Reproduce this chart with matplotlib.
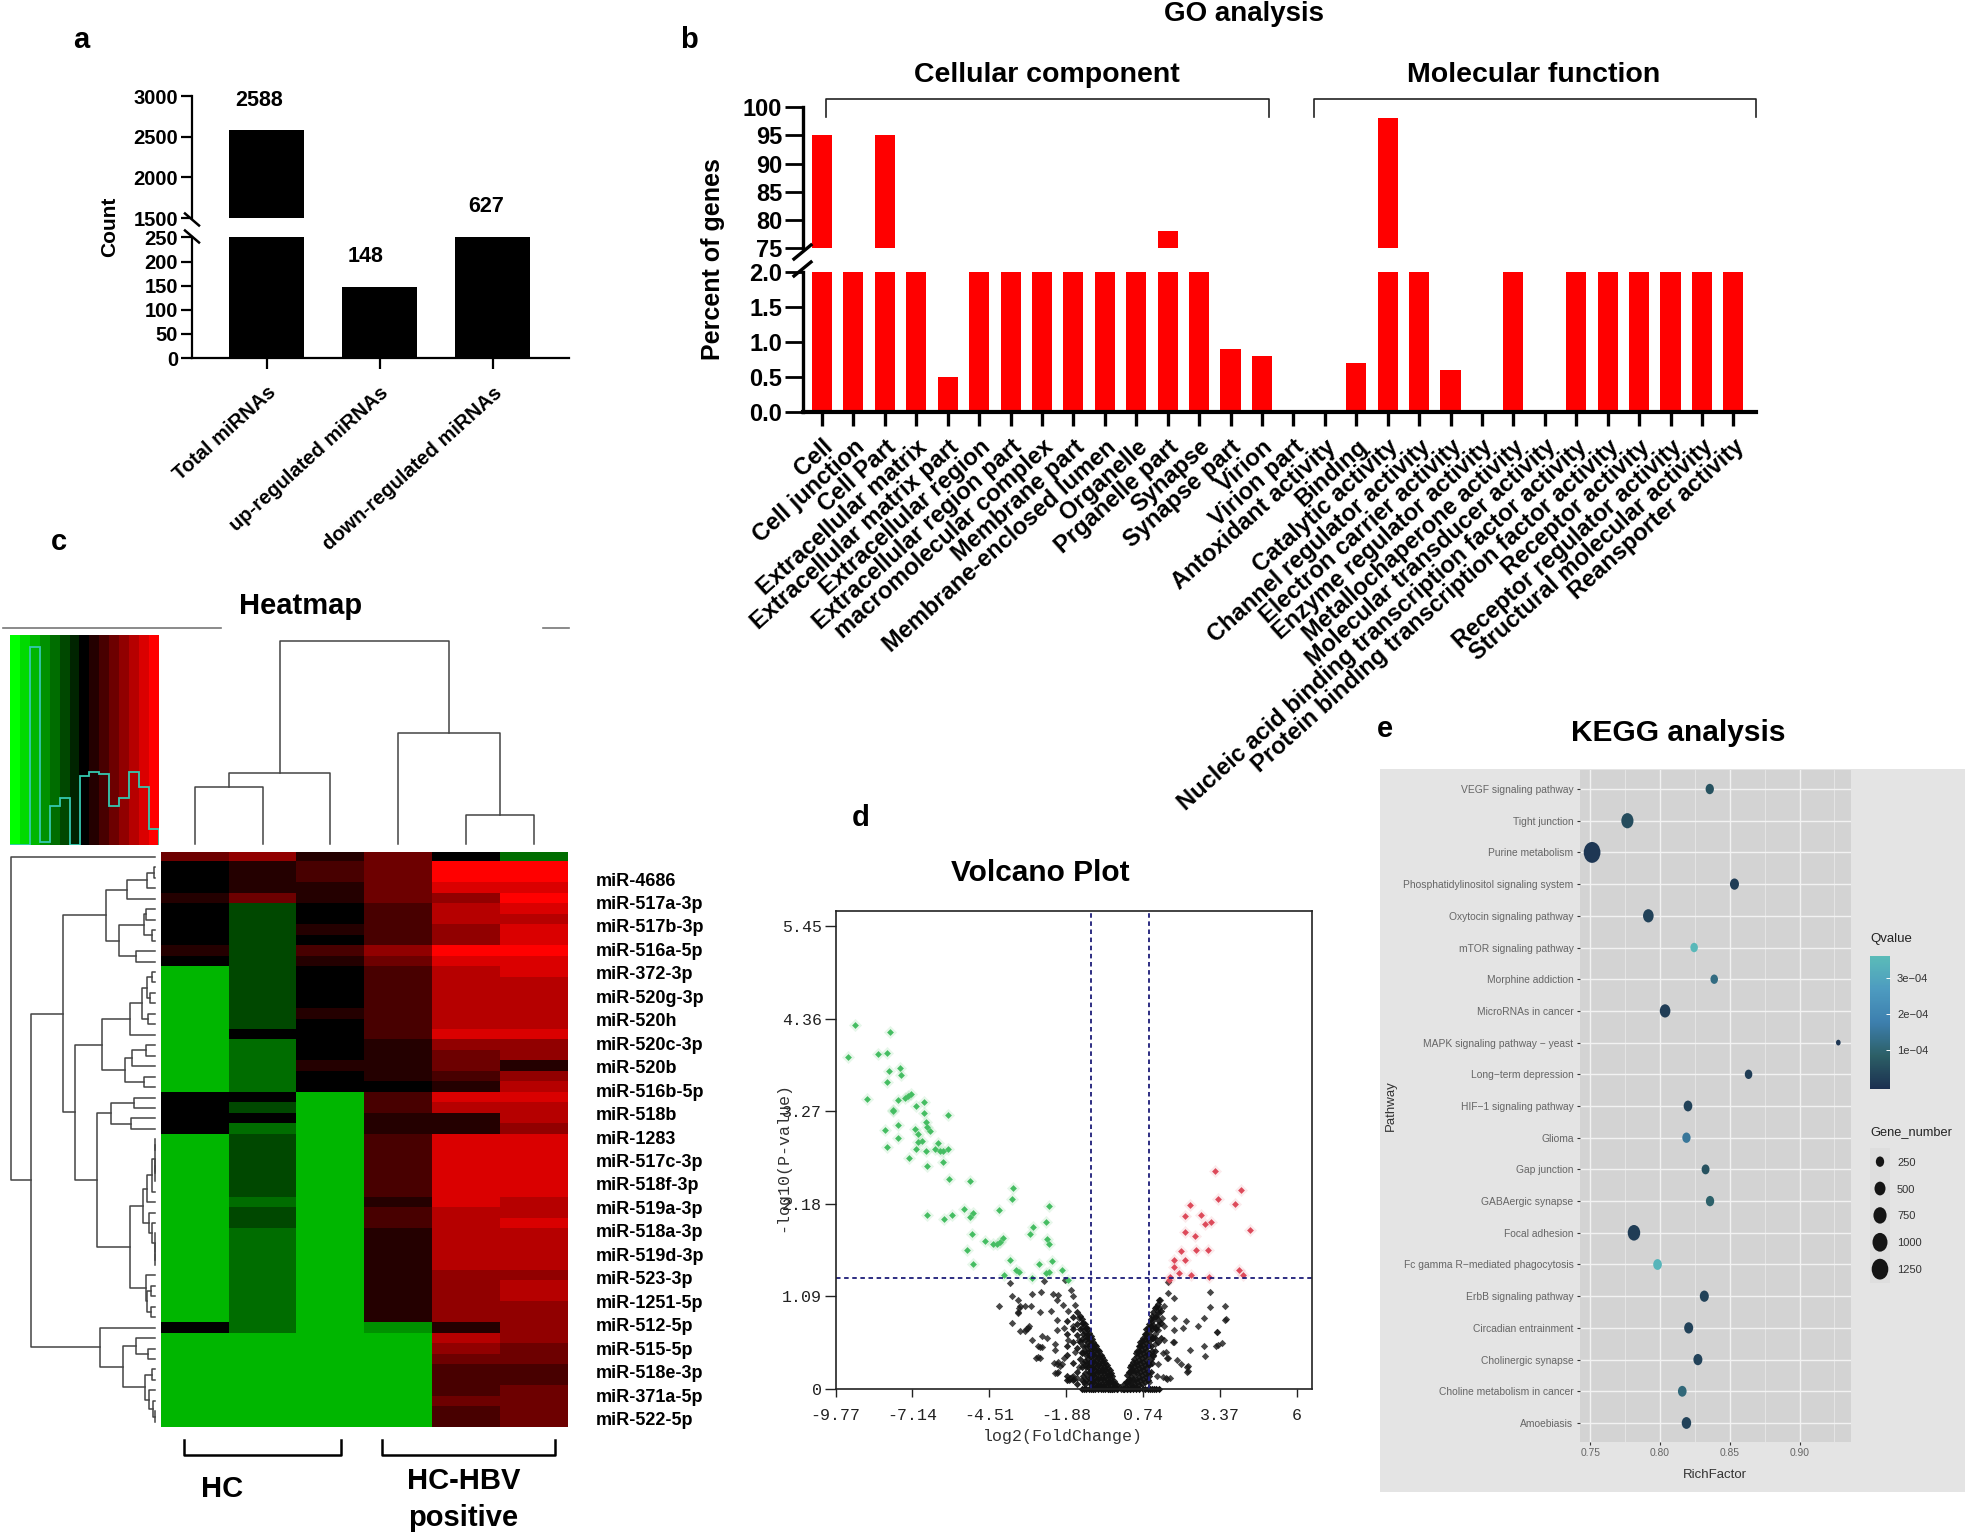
import numpy as np
import matplotlib
matplotlib.use("Agg")
import matplotlib.pyplot as plt
from matplotlib.colors import ListedColormap, LinearSegmentedColormap
from matplotlib.path import Path
from matplotlib.transforms import Affine2D

plt.rcParams['font.family'] = ['Liberation Sans', 'DejaVu Sans']

W, H = 1967, 1538

# ---- panel a
a_labels = ["Total miRNAs", "up-regulated miRNAs", "down-regulated miRNAs"]
a_values = [2588, 148, 627]

# ---- panel b
go_labels = ["Cell", "Cell junction", "Cell Part", "Extracellular matrix", "Extracellular matrix part",
             "Extracellular region", "Extracellular region part", "macromolecular complex", "Membrane part",
             "Membrane-enclosed lumen", "Organelle", "Prganelle part", "Synapse", "Synapse part", "Virion",
             "Virion part", "Antoxidant activity", "Binding", "Catalytic activity", "Channel regulator activity",
             "Electron carrier activity", "Enzyme regulator activity", "Metallochaperone activity",
             "Molecular transducer activity", "Nucleic acid binding transcription factor activity",
             "Protein binding transcription factor activity", "Receptor activity", "Receptor regulator activity",
             "Structural molecular activity", "Reansporter activity"]
go_values = [95, 2, 95, 2, 0.5, 2, 2, 2, 2, 2, 2, 78, 2, 0.9, 0.8,
             0, 0, 0.7, 98, 2, 0.6, 0, 2, 0, 2, 2, 2, 2, 2, 2]

# ---- panel c, colour level per run of rows, (level, number of rows)
hm_col1 = [(3, 1), (0, 3), (1, 1), (0, 4), (1, 1), (0, 1), (-5, 12), (0, 4), (-5, 18), (0, 1), (-5, 9)]
hm_col2 = [(4, 1), (1, 3), (3, 1), (-2, 12), (0, 1), (-3, 5), (0, 1), (-2, 1), (0, 1), (-3, 1), (-2, 6),
           (-3, 1), (-2, 2), (-3, 10), (-5, 9)]
hm_col3 = [(1, 1), (2, 2), (1, 2), (0, 2), (1, 1), (0, 1), (2, 1), (1, 1), (0, 4), (1, 1), (0, 4), (1, 1),
           (0, 2), (-5, 32)]
hm_col4 = [(3, 5), (2, 4), (4, 1), (3, 1), (2, 7), (1, 4), (0, 1), (2, 2), (1, 2), (2, 6), (1, 1), (2, 2),
           (1, 9), (-4, 1), (-5, 9)]
hm_col5 = [(0, 1), (7, 2), (6, 1), (4, 1), (5, 2), (4, 2), (7, 1), (6, 1), (5, 6), (6, 1), (4, 1), (3, 2),
           (2, 1), (1, 1), (6, 1), (5, 1), (1, 2), (6, 7), (5, 6), (4, 5), (1, 1), (5, 1), (4, 1), (3, 1),
           (2, 2), (2, 1), (3, 1), (2, 2)]
hm_col6 = [(-3, 1), (7, 2), (6, 1), (7, 1), (6, 1), (5, 1), (6, 2), (7, 1), (6, 2), (5, 5), (6, 1), (4, 2),
           (1, 1), (4, 1), (5, 1), (6, 1), (5, 2), (4, 1), (6, 6), (5, 2), (6, 1), (5, 4), (4, 1), (5, 2),
           (4, 4), (3, 2), (2, 2), (3, 4)]
mir_labels = ["miR-4686", "miR-517a-3p", "miR-517b-3p", "miR-516a-5p", "miR-372-3p", "miR-520g-3p", "miR-520h",
              "miR-520c-3p", "miR-520b", "miR-516b-5p", "miR-518b", "miR-1283", "miR-517c-3p", "miR-518f-3p",
              "miR-519a-3p", "miR-518a-3p", "miR-519d-3p", "miR-523-3p", "miR-1251-5p", "miR-512-5p",
              "miR-515-5p", "miR-518e-3p", "miR-371a-5p", "miR-522-5p"]
key_levels = np.arange(-7, 8)
key_hist = [0, 0, 595, 8, 118, 140, 0, 208, 220, 213, 118, 140, 220, 173, 47]
# trees are (height, left, right), an int is a leaf
col_tree = (609, (215, (171, 0, 1), 2), (334, 3, (88, 4, 5)))
row_tree = (365, 0, (315,
    (233,
     (125,
      (73, (21, (3, 1, 2), 3), 4),
      (93, (28, (25, 5, 6), (8, 7, 8)), (48, 9, 10))),
     (203,
      (135,
       (63, (33, (21, (8, 11, 12), (13, 13, 14)), (18, 15, 16)), 17),
       (76, (60, (25, 18, 19), 20), (28, 21, 22))),
      (148,
       (113, (53, 23, 24), (61, 25, 26)),
       (63,
        (31, (21, (8, (2, (1, 27, 28), (1, (1, 29, 30), 31)), 32), 33),
         (15, 34, (8, 35, (2, 36, (2, 37, (1, 38, 39)))))),
        (25, 40, (21, (11, 41, 42), (11, 43, 44))))))),
    (140, 45, (81, (48, 46, (18, 47, 48)),
               (26, (8, 49, 50), (15, 51, (6, 52, (1, 53, 54))))))))

# ---- panel d
volcano_green = [(-9.12, 4.29), (-9.34, 3.91), (-7.91, 4.20), (-8.31, 3.94), (-8.01, 3.96), (-7.94, 3.74),
                 (-7.58, 3.78), (-7.54, 3.70), (-8.01, 3.61), (-8.68, 3.42), (-7.64, 3.40), (-7.41, 3.43),
                 (-7.31, 3.45), (-7.18, 3.47), (-6.74, 3.38), (-7.01, 3.33), (-7.79, 3.29), (-7.82, 3.27),
                 (-6.75, 3.25), (-5.92, 3.22), (-6.69, 3.14), (-7.63, 3.11), (-6.63, 3.09), (-6.55, 3.04),
                 (-8.07, 3.05), (-7.06, 3.06), (-6.96, 3.00), (-7.63, 2.96), (-6.94, 2.91), (-6.82, 2.92),
                 (-8.00, 2.85), (-6.28, 2.89), (-7.02, 2.83), (-6.69, 2.80), (-6.37, 2.82), (-6.21, 2.80),
                 (-6.08, 2.80), (-5.92, 2.82), (-7.26, 2.72), (-6.08, 2.67), (-6.66, 2.63), (-5.90, 2.47),
                 (-5.17, 2.45), (-3.70, 2.36), (-3.73, 2.24), (-2.47, 2.15), (-4.17, 2.11), (-5.38, 2.12),
                 (-5.07, 2.07), (-5.18, 2.02), (-6.64, 2.05), (-5.80, 2.05), (-6.07, 2.00), (-2.59, 1.97),
                 (-3.01, 1.91), (-3.11, 1.82), (-5.12, 1.82), (-2.54, 1.76), (-2.48, 1.71), (-4.65, 1.74),
                 (-4.39, 1.71), (-4.24, 1.71), (-4.14, 1.73), (-4.03, 1.78), (-5.28, 1.63), (-3.80, 1.52),
                 (-5.07, 1.47), (-2.38, 1.51), (-2.80, 1.47), (-2.01, 1.40), (-3.61, 1.40), (-3.51, 1.37),
                 (-2.47, 1.37), (-2.57, 1.36), (-4.00, 1.34), (-3.06, 1.30), (-1.81, 1.28)]
volcano_red = [(3.20, 2.56), (4.09, 2.34), (3.30, 2.23), (3.89, 2.18), (2.35, 2.16), (2.72, 2.05), (2.19, 2.03),
               (3.08, 1.96), (2.87, 1.94), (4.41, 1.87), (2.19, 1.85), (2.52, 1.80), (2.57, 1.63), (2.95, 1.63),
               (2.04, 1.62), (2.19, 1.52), (1.82, 1.52), (1.82, 1.44), (4.04, 1.40), (1.97, 1.36), (2.39, 1.34),
               (4.18, 1.34), (1.65, 1.32), (2.99, 1.32), (1.63, 1.28)]
volcano_black = [(-3.80, 1.25), (-2.64, 1.27), (-1.92, 1.28), (-3.73, 1.09), (-3.53, 1.05), (-4.17, .98), (-3.48, .98),
                 (-3.29, .98), (-3.10, .98), (-3.04, 1.12), (-2.76, 1.14), (-2.34, 1.12), (-2.15, 1.11), (-1.73, 1.16),
                 (-1.64, 1.09), (-2.21, 1.04), (-1.98, .99), (-1.58, .99), (-3.52, .90), (-3.73, .78), (-2.78, .90),
                 (-2.40, .92), (-1.83, .92), (-2.21, .81), (-1.45, .83), (-1.33, .78), (-3.16, .74), (-3.29, .68),
                 (-3.48, .68), (-2.72, .62), (-2.53, .60), (-2.21, .69), (-1.96, .71), (-1.64, .74), (-1.20, .71),
                 (-3.04, .57), (-2.85, .50), (-2.28, .53), (-1.83, .57), (-1.45, .57), (-1.13, .60), (-2.78, .36),
                 (-2.91, .36), (-2.28, .46), (-1.96, .36), (-1.58, .43), (-1.33, .43), (-2.21, .29), (-2.02, .29),
                 (-2.21, .19), (-1.64, .15), (-1.52, .13), (-1.77, .13), (-1.45, .25), (-1.20, .29), (-1.07, .20),
                 (-1.26, .08), (-2.78, .495), (-2.72, .49), (-2.84, .37), (-2.15, .32), (-1.70, .134), (-1.75, .12),
                 (-3.18, .71), (-3.25, .70), (-3.52, .89), (-3.50, .95), (-2.25, .18), (-2.15, .20), (-2.3, .3),
                 (-2.1, .27), (-1.8, .10), (-1.6, .12),
                 (1.59, 1.26), (1.59, 1.13), (1.81, 1.07), (1.34, 1.04), (1.46, .97), (1.27, .88), (1.40, .83),
                 (1.82, .83), (2.20, .80), (2.83, .83), (3.56, .98), (3.02, .96), (3.05, 1.14), (3.58, .82),
                 (2.61, .74), (1.82, .69), (1.46, .74), (1.27, .69), (1.15, .64), (2.10, .71), (3.28, .67),
                 (3.46, .54), (2.82, .50), (2.35, .46), (2.86, .38), (1.82, .55), (1.46, .57), (1.15, .53),
                 (1.53, .43), (1.59, .36), (1.91, .34), (2.04, .29), (2.29, .27), (2.29, .21), (1.53, .13),
                 (1.65, .13), (1.27, .29), (1.08, .39), (0.96, .29), (1.21, .15), (0.96, .08), (2.24, .26), (2.24, .20),
                 (3.31, .52), (3.24, .50), (1.44, .14), (1.55, .12), (1.78, .55), (3.55, .81), (3.26, .67), (1.44, .42),
                 (1.55, .36)]
# dense V around zero, read column by column: (log2 fold change, [-log10 p, ...])
volcano_v = [(-.05, [.02]), (-.15, [0, .04]), (-.2, [.05]), (-.25, [.02, .09]), (-.3, [0, .08, .15]),
             (-.35, [.04, .12, .18]), (-.4, [0, .08, .16, .22]), (-.45, [0, .08, .16, .24]),
             (-.5, [.04, .12, .2, .28]), (-.55, [.06, .14, .22, .3]), (-.6, [.02, .1, .18, .26, .34]),
             (-.65, [.06, .14, .22, .3, .37]), (-.7, [.02, .1, .18, .26, .34, .4]),
             (-.75, [.06, .14, .22, .3, .38, .44]), (-.8, [.04, .12, .2, .28, .36, .46]),
             (-.85, [.02, .1, .18, .26, .34, .42, .5]), (-.9, [.06, .14, .22, .3, .38, .46, .52]),
             (-.95, [0, .08, .16, .24, .32, .4, .48, .55]), (-1., [.02, .1, .18, .26, .34, .42, .5, .58]),
             (-1.05, [.06, .14, .22, .3, .38, .46, .54, .62]), (-1.1, [.08, .2, .3, .4, .5, .6, .66]),
             (-1.15, [.14, .25, .35, .45, .55, .63, .7]), (-1.2, [.1, .25, .4, .5, .62, .72]),
             (-1.25, [.05, .18, .33, .45, .57, .67, .76]), (-1.3, [.15, .3, .5, .65, .78]),
             (-1.35, [.1, .25, .42, .58, .72, .82]), (-1.4, [.35, .55, .7, .86]),
             (-1.5, [.05, .2, .48, .63, .76, .9]), (-1.65, [.1, .3, .55, .7, .84]),
             (-1.85, [.1, .15, .4, .5, .65, .8]),
             (0., [0]), (.05, [0]), (.1, [0, .05]), (.15, [.02, .08]), (.2, [0, .08, .16]), (.25, [.04, .12, .2]),
             (.3, [0, .1, .2, .26]), (.35, [.06, .14, .22, .28]), (.4, [.02, .12, .22, .32]),
             (.45, [.07, .17, .27, .35]), (.5, [.02, .12, .22, .32, .42]), (.55, [.08, .18, .28, .38, .44]),
             (.6, [.04, .14, .24, .34, .44, .5]), (.65, [.1, .2, .3, .4, .5, .55]),
             (.7, [.06, .16, .26, .36, .46, .56]), (.75, [.12, .22, .32, .42, .52, .6]),
             (.8, [.08, .18, .28, .38, .48, .58, .64]), (.85, [.14, .24, .34, .44, .54, .64, .7]),
             (.9, [.1, .2, .3, .4, .5, .6, .72]), (.95, [.15, .28, .42, .56, .68, .76]),
             (1., [.2, .35, .5, .62, .74, .82]), (1.05, [.3, .45, .6, .7, .8, .86]),
             (1.1, [.4, .6, .75, .9]), (1.15, [.45, .6, .72, .85, .95]), (1.2, [.7, .85, .96]),
             (1.25, [.55, .75, .9, 1.]), (1.3, [.8, .95, 1.04]), (1.35, [.6, .78, .92])]
# points sitting on the zero line
volcano_zero_x = [-1.35, -1.27, -1.2, -1.12, -1.05, -.97, -.9, -.78, -.7, -.62, -.55, -.47, -.4, -.32, -.25, -.15,
                  .1, .2, .3, .4, .5, .6, .75, .82, .9, .98, 1.05, 1.13, 1.2, 1.3]
volcano_xticks = [-9.77, -7.14, -4.51, -1.88, 0.74, 3.37, 6]
volcano_xlabels = ["-9.77", "-7.14", "-4.51", "-1.88", "0.74", "3.37", "6"]
volcano_yticks = [0, 1.09, 2.18, 3.27, 4.36, 5.45]
volcano_ylabels = ["0", "1.09", "2.18", "3.27", "4.36", "5.45"]

# ---- panel e
pathways = ["VEGF signaling pathway", "Tight junction", "Purine metabolism", "Phosphatidylinositol signaling system",
            "Oxytocin signaling pathway", "mTOR signaling pathway", "Morphine addiction", "MicroRNAs in cancer",
            "MAPK signaling pathway \u2212 yeast", "Long\u2212term depression", "HIF\u22121 signaling pathway", "Glioma",
            "Gap junction", "GABAergic synapse", "Focal adhesion", "Fc gamma R\u2212mediated phagocytosis",
            "ErbB signaling pathway", "Circadian entrainment", "Cholinergic synapse", "Choline metabolism in cancer",
            "Amoebiasis"]
rich_factor = [.8357, .7767, .7514, .8534, .7917, .8245, .8389, .8037, .9278, .8635, .8201, .8190,
               .8327, .8359, .7814, .7983, .8318, .8206, .8272, .8160, .8190]
gene_number = [250, 630, 1265, 310, 460, 190, 190, 460, 20, 190, 280, 250,
               220, 250, 670, 280, 310, 310, 310, 280, 350]
qvalue = [.6e-4, .5e-4, .1e-4, .2e-4, .3e-4, 3.5e-4, 1.2e-4, .2e-4, .1e-4, .2e-4, .3e-4, 1.5e-4,
          .6e-4, .9e-4, .2e-4, 3.4e-4, .3e-4, .3e-4, .3e-4, 1.1e-4, .3e-4]
legend_genes = [250, 500, 750, 1000, 1250]

fig = plt.figure(figsize=(W / 100, H / 100), dpi=100, facecolor="white")


def pxax(left, top, right, bottom, **kw):
    return fig.add_axes([left / W, 1 - bottom / H, (right - left) / W, (bottom - top) / H], **kw)


def expand(runs):
    return np.repeat([r[0] for r in runs], [r[1] for r in runs])


def tree_lines(node, leaf_pos, out):
    # returns (position, height) of a node and adds its U shape to out
    if isinstance(node, int):
        return leaf_pos(node), 0
    h, left, right = node
    p1, h1 = tree_lines(left, leaf_pos, out)
    p2, h2 = tree_lines(right, leaf_pos, out)
    out.append(([p1, p1, p2, p2], [h1, h, h, h2]))
    return (p1 + p2) / 2, h


# overlay in pixel units, for panel letters, titles and brackets
ov = fig.add_axes([0, 0, 1, 1], zorder=20)
ov.set_xlim(0, W)
ov.set_ylim(H, 0)
ov.axis("off")

for letter, x, y in [("a", 81, 40), ("b", 689, 40), ("c", 59, 542), ("d", 861, 818), ("e", 1385, 729)]:
    ov.text(x, y, letter, fontsize=21, fontweight="bold", ha="center", va="center")

# ---------------- a
a_x = np.arange(3)
a_up = pxax(192, 96.3, 569, 218)
a_low = pxax(192, 237.5, 569, 358)
for ax in (a_up, a_low):
    ax.bar(a_x, a_values, width=0.66, color="black")
    ax.set_xlim(-0.66, 2.676)
    for s in ["top", "right"]:
        ax.spines[s].set_visible(False)
    ax.spines["left"].set_linewidth(1.6)
    ax.spines["bottom"].set_linewidth(1.6)
    ax.tick_params(width=1.6, length=8, labelsize=14.5, pad=2)
a_up.set_ylim(1500, 3000)
a_up.set_yticks([1500, 2000, 2500, 3000])
a_up.spines["bottom"].set_visible(False)
a_up.set_xticks([])
plt.setp(a_up.get_yticklabels(), fontweight="bold")
a_low.set_ylim(0, 250)
a_low.set_yticks([0, 50, 100, 150, 200, 250])
plt.setp(a_low.get_yticklabels(), fontweight="bold")
a_low.set_xticks(a_x)
a_low.set_xticklabels(a_labels, rotation=42, ha="right", rotation_mode="anchor", fontsize=14.5, fontweight="bold")
a_low.tick_params(axis="x", pad=10)
ov.text(110, 227, "Count", rotation=90, fontsize=15, fontweight="bold", ha="center", va="center")
for txt, x, y in zip(a_values, [259, 366, 486], [101, 257, 207]):
    ov.text(x, y, str(txt), fontsize=15.5, fontweight="bold", ha="center", va="center")
for y0 in (213.5, 230.5):
    ov.plot([185, 199], [y0, y0 + 12], color="black", lw=1.8)

# ---------------- b
go_x = np.arange(len(go_labels))
b_up = pxax(803, 107, 1756, 248.3)
b_low = pxax(803, 271.7, 1756, 411.7)
for ax in (b_up, b_low):
    ax.bar(go_x, go_values, width=0.64, color="#ff0000")
    ax.set_xlim(-0.6045, 29.72)
    for s in ["top", "right"]:
        ax.spines[s].set_visible(False)
    ax.spines["left"].set_linewidth(2.4)
    ax.tick_params(axis="y", width=2, length=13, labelsize=17, pad=2)
b_up.set_ylim(75, 100)
b_up.set_yticks([75, 80, 85, 90, 95, 100])
b_up.spines["bottom"].set_visible(False)
b_up.set_xticks([])
plt.setp(b_up.get_yticklabels(), fontweight="bold")
b_low.set_ylim(0, 2)
b_low.set_yticks([0, 0.5, 1, 1.5, 2])
b_low.set_yticklabels(["0.0", "0.5", "1.0", "1.5", "2.0"], fontweight="bold")
b_low.spines["bottom"].set_linewidth(3)
b_low.set_xticks(go_x)
b_low.set_xticklabels(go_labels, rotation=42, ha="right", rotation_mode="anchor", fontsize=17, fontweight="bold")
b_low.tick_params(axis="x", width=2.4, length=10, pad=7)
ov.text(713, 259, "Percent of genes", rotation=90, fontsize=18, fontweight="bold", ha="center", va="center")
ov.text(1244, 14, "GO analysis", fontsize=20, fontweight="bold", ha="center", va="center")
ov.text(1047, 75, "Cellular component", fontsize=20.5, fontweight="bold", ha="center", va="center")
ov.text(1534, 75, "Molecular function", fontsize=20.5, fontweight="bold", ha="center", va="center")
for x0, x1 in [(826, 1269), (1314, 1756)]:
    ov.plot([x0, x0, x1, x1], [117, 99, 99, 117], color="#222222", lw=1.2)
for y0 in (245, 262):
    ov.plot([794, 811], [y0 + 14, y0], color="black", lw=2.4)

# ---------------- c
hm_levels = np.column_stack([expand(c) for c in (hm_col1, hm_col2, hm_col3, hm_col4, hm_col5, hm_col6)])
rg_colors = [(0, -v / 7, 0) if v < 0 else (v / 7, 0, 0) for v in key_levels]
rg_cmap = ListedColormap(rg_colors)

hm = pxax(161, 851.7, 567.4, 1427)
hm.imshow(hm_levels, aspect="auto", cmap=rg_cmap, vmin=-7.5, vmax=7.5, interpolation="nearest")
hm.axis("off")

key = pxax(10, 635, 159, 845)
key.imshow(key_levels[None, :], aspect="auto", cmap=rg_cmap, vmin=-7.5, vmax=7.5,
           extent=(0, 15, 0, 630), interpolation="nearest")
key.stairs(key_hist, np.arange(16), color="#35c9b0", lw=1.3)
key.set_xlim(0, 15)
key.set_ylim(0, 630)
key.axis("off")

col_dend = pxax(161, 641, 567.4, 844.3)
segs = []
tree_lines(col_tree, lambda i: i + 0.5, segs)
for xs, ys in segs:
    col_dend.plot(xs, ys, color="#444444", lw=1.1, clip_on=False)
col_dend.set_xlim(0, 6)
col_dend.set_ylim(0, 609)
col_dend.axis("off")

row_dend = pxax(11, 851.7, 155.4, 1427)
segs = []
tree_lines(row_tree, lambda i: i + 0.5, segs)
for ys, xs in segs:
    row_dend.plot(xs, ys, color="#444444", lw=1.1, clip_on=False)
row_dend.set_xlim(365, 0)
row_dend.set_ylim(55, 0)
row_dend.axis("off")

ov.plot([3, 220.6], [628, 628], color="#777777", lw=1.2)
ov.plot([542.5, 569.4], [628, 628], color="#777777", lw=1.2)
ov.text(301, 606, "Heatmap", fontsize=21, fontweight="bold", ha="center", va="center")
for lab, y in zip(mir_labels, np.linspace(881, 1420.6, len(mir_labels))):
    ov.text(596, y, lab, fontsize=13, fontweight="bold", ha="left", va="center")
for x0, x1 in [(184, 341), (381.6, 554.8)]:
    ov.plot([x0, x0, x1, x1], [1439.5, 1455, 1455, 1439.5], color="black", lw=1.8)
ov.text(222, 1489, "HC", fontsize=21, fontweight="bold", ha="center", va="center")
ov.text(464, 1481, "HC-HBV", fontsize=21, fontweight="bold", ha="center", va="center")
ov.text(463, 1518, "positive", fontsize=21, fontweight="bold", ha="center", va="center")

# ---------------- d
mono = "Liberation Mono"
d_ax = pxax(835.6, 910.5, 1311.9, 1388.7)
black = np.array(volcano_black)
green = np.array(volcano_green)
red = np.array(volcano_red)
v_x = np.concatenate([[c[0]] * len(c[1]) for c in volcano_v])
v_y = np.concatenate([c[1] for c in volcano_v])
d_ax.scatter(black[:, 0], black[:, 1], marker="D", s=14, color="#1a1a1a", alpha=0.8, lw=0, clip_on=False)
d_ax.scatter(v_x, v_y, marker="D", s=14, color="#111111", alpha=0.9, lw=0, clip_on=False)
d_ax.scatter(volcano_zero_x, [0] * len(volcano_zero_x), marker="D", s=14, color="#111111", lw=0, clip_on=False)
d_ax.scatter(green[:, 0], green[:, 1], marker="D", s=45, color="#3fbf5a", alpha=0.12, lw=0)
d_ax.scatter(green[:, 0], green[:, 1], marker="D", s=12, color="#45bd62", lw=0)
d_ax.scatter(red[:, 0], red[:, 1], marker="D", s=45, color="#dd4050", alpha=0.10, lw=0)
d_ax.scatter(red[:, 0], red[:, 1], marker="D", s=12, color="#dd4a5a", lw=0)
for v in (-1.03, 0.96):
    d_ax.axvline(v, color="#1c1c78", lw=1.3, ls=(0, (2.5, 2)))
d_ax.axhline(1.304, color="#1c1c78", lw=1.3, ls=(0, (2.5, 2)))
d_ax.set_xlim(-9.77, 6.52)
d_ax.set_ylim(0, 5.636)
d_ax.set_xticks(volcano_xticks)
d_ax.set_xticklabels(volcano_xlabels, family=mono, fontsize=12)
d_ax.set_yticks(volcano_yticks)
d_ax.set_yticklabels(volcano_ylabels, family=mono, fontsize=12)
d_ax.tick_params(axis="x", length=6, width=1, color="#222222", pad=8, labelcolor="#222222")
d_ax.tick_params(axis="y", length=8, width=1, color="#222222", pad=2, labelcolor="#222222")
for s in d_ax.spines.values():
    s.set_linewidth(1.2)
    s.set_color("#222222")
ov.text(1063, 1436, "log2(FoldChange)", family=mono, fontsize=12, color="#333333", ha="center", va="center")
ov.text(783, 1157, "-log10(P-value)", family=mono, fontsize=12, rotation=90, color="#333333",
        ha="center", va="center")
ov.text(1040, 873, "Volcano Plot", fontsize=21.5, fontweight="bold", ha="center", va="center")

# ---------------- e
back = pxax(1380, 769.4, 1964.5, 1492.4, facecolor="#e4e4e4")
back.set_xticks([])
back.set_yticks([])
for s in back.spines.values():
    s.set_visible(False)

e_ax = pxax(1579.8, 770, 1850.6, 1442, facecolor="#d3d3d3")
q_cmap = LinearSegmentedColormap.from_list("q", ["#1b2f50", "#2c5f66", "#3d7fae", "#4d9bc0", "#5bbcb8"])
dot = Path.unit_circle().transformed(Affine2D().scale(0.8, 1))


def gene_size(g):
    return 14 + 0.1678 * np.asarray(g)


e_y = np.arange(len(pathways))
e_ax.set_axisbelow(True)
sc = e_ax.scatter(rich_factor, e_y, s=gene_size(gene_number), c=qvalue, cmap=q_cmap,
                  vmin=-0.07e-4, vmax=3.61e-4, marker=dot, lw=0, zorder=3)
e_ax.set_xlim(0.7426, 0.9366)
e_ax.set_ylim(20.6, -0.6)
e_ax.set_xticks([0.75, 0.80, 0.85, 0.90])
e_ax.set_xticklabels(["0.75", "0.80", "0.85", "0.90"])
e_ax.set_xticks([0.775, 0.825, 0.875, 0.925], minor=True)
e_ax.set_yticks(e_y)
e_ax.set_yticklabels(pathways)
e_ax.grid(which="major", color="#f2f2f2", lw=1)
e_ax.grid(which="minor", axis="x", color="#e8e8e8", lw=0.6)
e_ax.tick_params(axis="both", which="major", length=2.5, width=0.8, color="#333333", labelcolor="#666666",
                 labelsize=7.4, pad=2)
e_ax.tick_params(axis="x", which="minor", length=0)
for s in e_ax.spines.values():
    s.set_visible(False)
ov.text(1715, 1474.5, "RichFactor", fontsize=9.5, color="#333333", ha="center", va="center")
ov.text(1391, 1106, "Pathway", fontsize=9.5, rotation=90, color="#333333", ha="center", va="center")
ov.text(1678.5, 732.6, "KEGG analysis", fontsize=21.5, fontweight="bold", ha="center", va="center")

cax = pxax(1870, 955.8, 1890, 1089)
cb = fig.colorbar(sc, cax=cax)
cb.set_ticks([1e-4, 2e-4, 3e-4])
cb.set_ticklabels(["1e\u221204", "2e\u221204", "3e\u221204"])
cb.outline.set_visible(False)
cax.tick_params(length=3, width=0.7, color="white", direction="in", labelsize=8, labelcolor="#333333", pad=5)
ov.text(1870, 939, "Qvalue", fontsize=9.5, color="#222222", ha="left", va="center")
ov.text(1870, 1132, "Gene_number", fontsize=9.2, color="#222222", ha="left", va="center")

leg = pxax(1870, 1148.2, 1890, 1282.6, facecolor="#dedede")
leg_y = np.arange(len(legend_genes)) + 0.5
leg.scatter([0.5] * len(legend_genes), leg_y, s=gene_size(legend_genes), color="#141414", marker=dot, lw=0)
leg.set_xlim(0, 1)
leg.set_ylim(len(legend_genes), 0)
leg.set_xticks([])
leg.yaxis.tick_right()
leg.set_yticks(leg_y)
leg.set_yticklabels([str(g) for g in legend_genes])
leg.tick_params(length=0, labelsize=8, labelcolor="#333333", pad=5)
for s in leg.spines.values():
    s.set_visible(False)

fig.savefig("out.png", dpi=100)
